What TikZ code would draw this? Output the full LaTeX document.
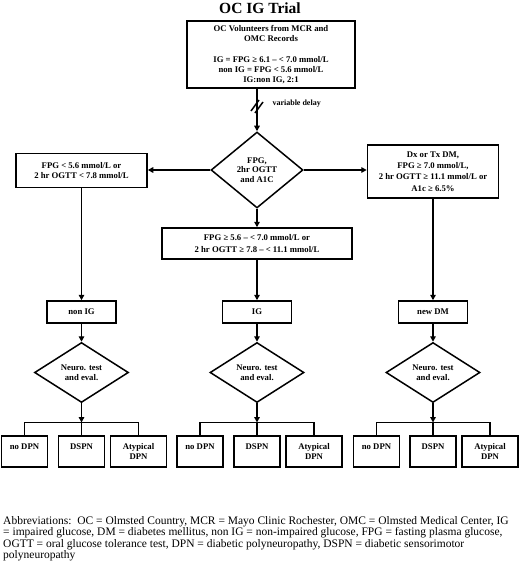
\documentclass[tikz,border=0pt]{standalone}
\usepackage{fontspec}
\setmainfont{Liberation Serif}
\usetikzlibrary{shapes.geometric,arrows.meta}
\begin{document}
\begin{tikzpicture}[x=1pt,y=-1pt,
  every node/.style={font=\bfseries\fontsize{8.7}{10.5}\selectfont},
  box/.style={draw, line width=1.5pt, align=center, inner sep=0pt},
  dia/.style={diamond, draw, line width=1.5pt, align=center, inner sep=0pt, minimum width=94pt, minimum height=60pt},
  conn/.style={line width=1.5pt},
  arr/.style={conn, -{Triangle[length=5.5pt,width=5.5pt]}},
  outbox/.style={box, minimum height=31pt, minimum width=46pt, font=\bfseries\fontsize{8.7}{10}\selectfont},
  grpbox/.style={box, minimum height=22pt, minimum width=69pt}]
\useasboundingbox (0,0) rectangle (520,561);

\node[anchor=base, font=\bfseries\fontsize{15.5}{18}\selectfont] (title) at (260,14) {OC IG Trial};

\node[box, minimum width=168pt, minimum height=67pt, font=\bfseries\fontsize{8.7}{9.6}\selectfont] (top) at (271,54.5)
  {OC Volunteers from MCR and\\OMC Records\\[12pt]IG = FPG ≥ 6.1 – < 7.0 mmol/L\\non IG = FPG < 5.6 mmol/L\\IG:non IG, 2:1};

\node[dia, minimum width=92pt, minimum height=76pt, font=\bfseries\fontsize{8.7}{9.6}\selectfont] (d1) at (257,170) {FPG,\\2hr OGTT\\and A1C};

\node[anchor=west, font=\bfseries\fontsize{8}{9}\selectfont] (vd) at (269,104) {variable delay};

\node[box, minimum width=131pt, minimum height=34pt] (lbox) at (81.5,170.5) {FPG < 5.6 mmol/L or\\2 hr OGTT < 7.8 mmol/L};
\node[box, minimum width=131pt, minimum height=53pt, font=\bfseries\fontsize{8.7}{11.2}\selectfont] (rbox) at (433,171.5) {Dx or Tx DM,\\FPG ≥ 7.0 mmol/L,\\2 hr OGTT ≥ 11.1 mmol/L or\\A1c ≥ 6.5\%};
\node[box, minimum width=190pt, minimum height=31pt, font=\bfseries\fontsize{8.7}{11.5}\selectfont] (mbox) at (257,243.5) {FPG ≥ 5.6 – < 7.0 mmol/L or\\2 hr OGTT ≥ 7.8 – < 11.1 mmol/L};

\node[grpbox] (g1) at (81.5,312) {non IG};
\node[grpbox] (g2) at (257,312) {IG};
\node[grpbox] (g3) at (433,312) {new DM};

\node[dia] (n1) at (81.5,372.5) {Neuro. test\\and eval.};
\node[dia] (n2) at (257,372.5) {Neuro. test\\and eval.};
\node[dia] (n3) at (433,372.5) {Neuro. test\\and eval.};

\coordinate (b1) at (81.5,422.5);
\coordinate (b2) at (257,422.5);
\coordinate (b3) at (433,422.5);

\node[outbox] (o11) at (24.5,451.5) {no DPN\\\mbox{}};
\node[outbox] (o12) at (81.5,451.5) {DSPN\\\mbox{}};
\node[outbox, minimum width=56pt] (o13) at (138.5,451.5) {Atypical\\DPN};
\node[outbox] (o21) at (200,451.5) {no DPN\\\mbox{}};
\node[outbox] (o22) at (257,451.5) {DSPN\\\mbox{}};
\node[outbox, minimum width=56pt] (o23) at (314,451.5) {Atypical\\DPN};
\node[outbox] (o31) at (376.5,451.5) {no DPN\\\mbox{}};
\node[outbox] (o32) at (433,451.5) {DSPN\\\mbox{}};
\node[outbox, minimum width=56pt] (o33) at (490,451.5) {Atypical\\DPN};

\node[anchor=north west, inner sep=0pt, align=left, font=\fontsize{11.5}{11.5}\selectfont] (abbr) at (3,516)
  {Abbreviations:\ \ OC = Olmsted Country, MCR = Mayo Clinic Rochester, OMC = Olmsted Medical Center, IG\\
   = impaired glucose, DM = diabetes mellitus, non IG = non-impaired glucose, FPG = fasting plasma glucose,\\
   OGTT = oral glucose tolerance test, DPN = diabetic polyneuropathy, DSPN = diabetic sensorimotor\\
   polyneuropathy};

% connectors
\draw[arr] (d1.north |- top.south) -- (d1.north);
\draw[conn] (251,111) -- (259,100);
\draw[conn] (255,113) -- (263,102);
\draw[arr] (d1.west) -- (d1.west -| lbox.east);
\draw[arr] (d1.east) -- (d1.east -| rbox.west);
\draw[arr] (d1.south) -- (mbox.north);
\draw[arr] (lbox.south) -- (g1.north);
\draw[arr] (mbox.south) -- (g2.north);
\draw[arr] (rbox.south) -- (g3.north);
\draw[arr] (g1.south) -- (n1.north);
\draw[arr] (g2.south) -- (n2.north);
\draw[arr] (g3.south) -- (n3.north);
\draw[arr] (n1.south) -- (b1);
\draw[arr] (n2.south) -- (b2);
\draw[arr] (n3.south) -- (b3);
\draw[conn] (o11.north) |- (b1) -| (o13.north);
\draw[conn] (b1) -- (o12.north);
\draw[conn] (o21.north) |- (b2) -| (o23.north);
\draw[conn] (b2) -- (o22.north);
\draw[conn] (o31.north) |- (b3) -| (o33.north);
\draw[conn] (b3) -- (o32.north);
\end{tikzpicture}
\end{document}
